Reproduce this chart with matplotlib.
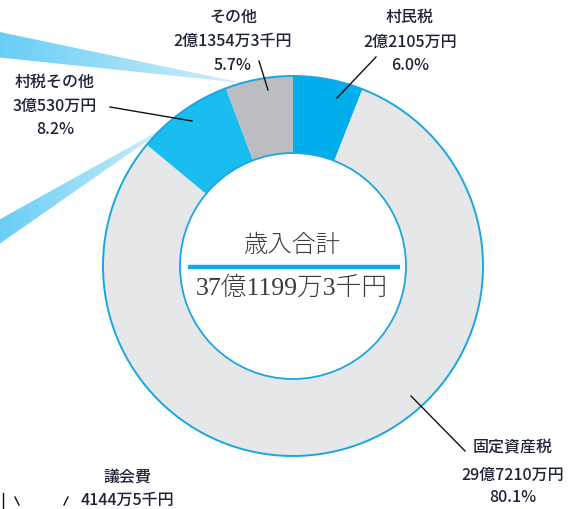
import matplotlib
matplotlib.use("Agg")
import matplotlib.pyplot as plt
import numpy as np
from matplotlib.patches import Polygon, Circle
from matplotlib.colors import LinearSegmentedColormap

plt.rcParams['font.family'] = ['Noto Sans CJK JP', 'DejaVu Sans']

# ---- data ----
categories = ["村民税", "固定資産税", "村税その他", "その他"]
amount_labels = ["2億2105万円", "29億7210万円", "3億530万円", "2億1354万3千円"]
values = [22105, 297210, 30530, 21354.3]  # 万円
pct_labels = ["6.0%", "80.1%", "8.2%", "5.7%"]
colors = ["#00AEEB", "#E6E7E8", "#19BDF0", "#BCBDC0"]
total_title = "歳入合計"
total_label = "37億1199万3千円"
side_title = "議会費"
side_amount = "4144万5千円"

W, H = 571, 509
fig = plt.figure(figsize=(W / 100, H / 100), dpi=100)
ax = fig.add_axes([0, 0, 1, 1])

cx, cy, R, ring_w = 293, 266, 190, 77

# pie (y axis inverted -> startangle -90 with counterclock=True is visually clockwise from top)
wedges, _ = ax.pie(values, colors=colors, startangle=-90, counterclock=True,
                   center=(cx, cy), radius=R,
                   wedgeprops=dict(width=ring_w, edgecolor='none', linewidth=0),
                   frame=True)
for w in wedges:
    w.set_zorder(3)
ax.add_patch(Circle((cx, cy), R, fill=False, edgecolor="#1BA6E3", lw=1.4, zorder=4))
ax.add_patch(Circle((cx, cy), R - ring_w, fill=False, edgecolor="#1BA6E3", lw=1.3, zorder=4))

ax.set_aspect('equal')
ax.axis('off')

# gradient callout wedges from the left
grad = np.linspace(0, 1, 256).reshape(1, -1)
cmap = LinearSegmentedColormap.from_list("g", ["#66CDF5", "#D3EFFB"])
for poly in ([(-5, 31), (243, 83), (-5, 57)], [(-5, 222), (173, 123), (-5, 247)]):
    p = Polygon(poly, closed=True, facecolor='none', edgecolor='none', zorder=1)
    ax.add_patch(p)
    xs = [q[0] for q in poly]; ys = [q[1] for q in poly]
    im = ax.imshow(grad, cmap=cmap, aspect='auto',
                   extent=(min(xs), max(xs), max(ys), min(ys)), zorder=1)
    im.set_clip_path(p)
ax.set_xlim(0, W)
ax.set_ylim(H, 0)

# leader lines
lc = "#111111"
ax.plot([259, 268], [61, 90], color=lc, lw=1.0, zorder=5)
ax.plot([376, 337], [57, 98], color=lc, lw=1.0, zorder=5)
ax.plot([110, 192], [107, 121], color=lc, lw=1.0, zorder=5)
ax.plot([411, 465], [396, 451], color=lc, lw=1.0, zorder=5)

tc = "#1E2235"
fs = 11.5
lab = [
    (410, [17, 42, 65], 0),
    (513, [448, 475, 498], 1),
    (55, [82, 106, 130], 2),
    (233, [17, 41, 65], 3),
]
for x, ys, i in lab:
    for y, t in zip(ys, [categories[i], amount_labels[i], pct_labels[i]]):
        ax.text(x, y, t, ha='center', va='center', fontsize=fs, color=tc,
                fontweight='medium', zorder=6)

# center
ax.text(292, 246, total_title, ha='center', va='center', fontsize=17.5,
        color="#3A3A3A", family=['Liberation Serif', 'Noto Sans CJK JP'],
        fontweight='light', zorder=6)
ax.plot([188, 400], [266.5, 266.5], color="#12A9E6", lw=3.2, solid_capstyle='butt', zorder=6)
ax.text(292, 288, total_label, ha='center', va='center', fontsize=18.5,
        color="#3A3A3A", family=['Liberation Serif', 'Noto Sans CJK JP'],
        fontweight='light', zorder=6)

# bottom-left partial label
ax.text(127, 477, side_title, ha='center', va='center', fontsize=fs, color=tc,
        fontweight='medium', zorder=6)
ax.text(127, 500, side_amount, ha='center', va='center', fontsize=fs, color=tc,
        fontweight='medium', zorder=6)
ax.plot([3, 3], [493, 509], color=lc, lw=1.0)
ax.plot([15, 19], [497, 505], color=lc, lw=1.0)
ax.plot([68, 64], [497, 505], color=lc, lw=1.0)

fig.savefig("out.png", dpi=100)
